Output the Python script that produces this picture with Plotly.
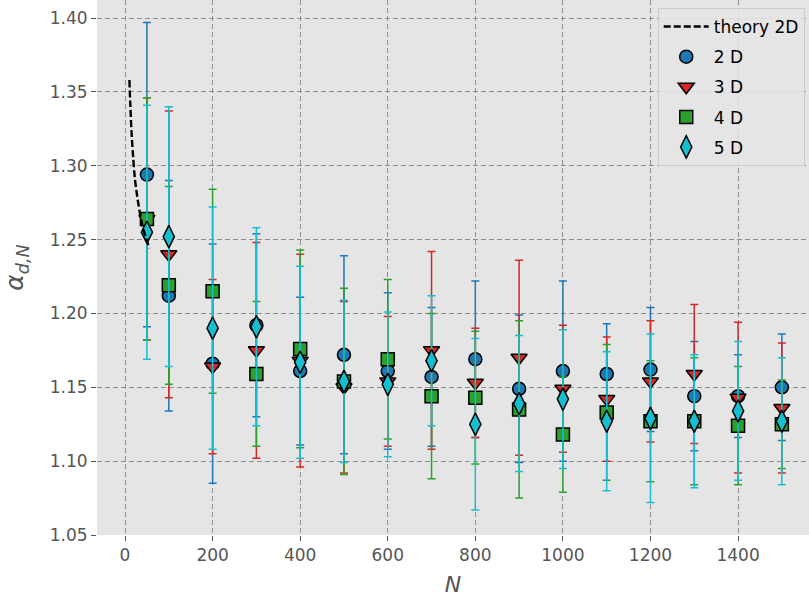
import plotly.graph_objects as go

# ---- data ----
N = [50, 100, 200, 300, 400, 500, 600, 700, 800, 900, 1000, 1100, 1200, 1300, 1400, 1500]

alpha_2D = [1.294, 1.212, 1.166, 1.192, 1.161, 1.172, 1.161, 1.157, 1.169, 1.149, 1.161, 1.159, 1.162, 1.144, 1.144, 1.150]
err_2D = [0.103, 0.078, 0.081, 0.062, 0.050, 0.067, 0.053, 0.047, 0.053, 0.050, 0.061, 0.034, 0.042, 0.037, 0.028, 0.036]

alpha_3D = [1.264, 1.240, 1.164, 1.175, 1.168, 1.150, 1.154, 1.175, 1.153, 1.170, 1.149, 1.142, 1.154, 1.159, 1.143, 1.136]
err_3D = [0.082, 0.097, 0.059, 0.073, 0.072, 0.058, 0.044, 0.067, 0.037, 0.066, 0.043, 0.042, 0.041, 0.047, 0.051, 0.044]

alpha_4D = [1.264, 1.219, 1.215, 1.159, 1.176, 1.154, 1.169, 1.144, 1.143, 1.135, 1.118, 1.133, 1.127, 1.127, 1.124, 1.125]
err_4D = [0.082, 0.067, 0.069, 0.049, 0.067, 0.063, 0.054, 0.056, 0.045, 0.060, 0.039, 0.046, 0.041, 0.043, 0.040, 0.030]

alpha_5D = [1.255, 1.252, 1.190, 1.191, 1.167, 1.154, 1.152, 1.168, 1.125, 1.139, 1.142, 1.127, 1.129, 1.127, 1.134, 1.127]
err_5D = [0.086, 0.088, 0.082, 0.067, 0.065, 0.055, 0.049, 0.044, 0.058, 0.046, 0.047, 0.047, 0.057, 0.045, 0.047, 0.043]

theory_N = [10, 12, 15, 19, 23, 28, 34, 41, 48, 56]
theory_alpha = [1.358, 1.342, 1.322, 1.304, 1.290, 1.279, 1.268, 1.258, 1.251, 1.244]

series = [
    ("2 D", alpha_2D, err_2D, "#1f77b4", "circle", 13),
    ("3 D", alpha_3D, err_3D, "#d62728", "triangle-down", 14),
    ("4 D", alpha_4D, err_4D, "#2ca02c", "square", 13),
    ("5 D", alpha_5D, err_5D, "#17becf", "diamond-tall", 16),
]

fig = go.Figure()

for name, y, e, col, sym, sz in series:
    fig.add_trace(go.Scatter(
        x=N, y=y, mode="markers", name=name, legendgroup=name,
        marker=dict(color=col, symbol=sym, size=sz, line=dict(color="black", width=1.5)),
        error_y=dict(type="data", array=e, visible=True, color=col, thickness=1.5, width=4),
        legendrank=2,
    ))

fig.add_trace(go.Scatter(
    x=theory_N, y=theory_alpha, mode="lines", name="theory 2D", legendgroup="theory",
    line=dict(color="black", width=2.4, dash="7px,3px", shape="spline"),
    legendrank=1,
))

font_family = "DejaVu Sans"
axis_common = dict(
    showgrid=True, gridcolor="#8f8f8f", gridwidth=1, griddash="5px,3px",
    zeroline=False, showline=False,
    ticks="outside", ticklen=5, tickwidth=1, tickcolor="#555555",
    tickfont=dict(family=font_family, size=17, color="#555555"),
)

fig.update_layout(
    width=809, height=601,
    margin=dict(l=97, r=0, t=0, b=66),
    paper_bgcolor="white", plot_bgcolor="#E5E5E5",
    font=dict(family=font_family, color="#555555"),
    xaxis=dict(range=[-64, 1562], tickmode="array", tickvals=[0, 200, 400, 600, 800, 1000, 1200, 1400],
               title=dict(text="<i>N</i>", font=dict(size=22, color="#555555"), standoff=12), **axis_common),
    yaxis=dict(range=[1.05, 1.4122], tickmode="array",
               tickvals=[1.05, 1.10, 1.15, 1.20, 1.25, 1.30, 1.35, 1.40], tickformat=".2f",
               title=dict(text="<i>α</i><sub><i>d,N</i></sub>", font=dict(size=25, color="#555555"), standoff=18),
               **axis_common),
    legend=dict(x=0.994, y=0.985, xanchor="right", yanchor="top",
                bgcolor="rgba(229,229,229,0.85)", bordercolor="#cccccc", borderwidth=1,
                font=dict(family=font_family, size=17, color="black"), traceorder="grouped",
                tracegroupgap=5, itemwidth=45),
    showlegend=True,
)

fig.write_html("out.html")
